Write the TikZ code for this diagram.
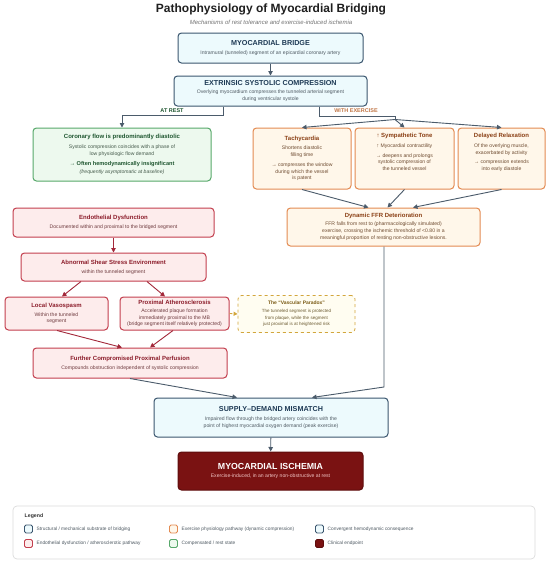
\documentclass[tikz,border=0pt]{standalone}
\usepackage{fontspec}
\setmainfont{Liberation Sans}
\usetikzlibrary{arrows.meta,calc}
\definecolor{navy}{HTML}{3B566F}
\definecolor{navytxt}{HTML}{1E3A55}
\definecolor{cyanf}{HTML}{EDFAFD}
\definecolor{graytxt}{HTML}{4F5A63}
\definecolor{orgb}{HTML}{E38B52}
\definecolor{orgf}{HTML}{FFF7EA}
\definecolor{orgt}{HTML}{8A3F14}
\definecolor{orgs}{HTML}{6E4B30}
\definecolor{redb}{HTML}{C33F4E}
\definecolor{redf}{HTML}{FDECEC}
\definecolor{redt}{HTML}{8C1D2B}
\definecolor{reds}{HTML}{6E3A3E}
\definecolor{grnb}{HTML}{57A86A}
\definecolor{grnf}{HTML}{EDF9EE}
\definecolor{grnt}{HTML}{1F5630}
\definecolor{grns}{HTML}{44594A}
\definecolor{parb}{HTML}{D2A63C}
\definecolor{parf}{HTML}{FFFDF1}
\definecolor{part}{HTML}{7A5A14}
\definecolor{pars}{HTML}{6B5A30}
\definecolor{ischf}{HTML}{7A1212}
\definecolor{ischd}{HTML}{5E0D0D}
\definecolor{ischs}{HTML}{F2C6C6}
\definecolor{arrc}{HTML}{4B5B6B}
\definecolor{arrr}{HTML}{A3283A}
\definecolor{legb}{HTML}{DCDCDC}
\newcommand{\fsz}[2]{\fontsize{#1}{#2}\selectfont}
\newcommand{\bigttl}{\fsz{7.2}{8}\bfseries}
\newcommand{\secttl}{\fsz{6}{6.8}\bfseries}
\begin{document}
\begin{tikzpicture}[x=1pt,y=-1pt,
  box/.style={rounded corners=3.5pt, line width=1pt, align=center, inner sep=1pt, font=\fsz{5.1}{6.8}},
  sbox/.style={box, draw=navy, fill=cyanf, text=graytxt},
  ebox/.style={box, draw=orgb, fill=orgf, text=orgs},
  rbox/.style={box, draw=redb, fill=redf, text=reds},
  gbox/.style={box, draw=grnb, fill=grnf, text=grns},
  pbox/.style={box, draw=parb, fill=parf, text=pars, dashed, line width=0.8pt, font=\fsz{4.5}{6.6}},
  ibox/.style={box, draw=ischd, fill=ischf, text=white},
  arr/.style={draw=arrc, line width=0.9pt, -{Triangle[length=4.5pt,width=4.5pt]}},
  rarr/.style={draw=arrr, line width=0.9pt, -{Triangle[length=4.5pt,width=4.5pt]}},
  parr/.style={draw=parb, line width=0.8pt, dashed, -{Triangle[length=4pt,width=4pt]}},
  lbl/.style={font=\fsz{5.5}{6}\bfseries, inner sep=0pt},
  sw/.style={rounded corners=1.5pt, line width=0.9pt, minimum width=8pt, minimum height=8pt, inner sep=0pt},
  legt/.style={anchor=west, inner sep=0pt, font=\fsz{4.8}{5.5}, text=graytxt}
]
\fill[white] (0,0) rectangle (550,563);
\useasboundingbox (0,0) rectangle (550,563);

\node[inner sep=0pt, font=\fsz{12}{14}\bfseries, text=black!88] (title) at (271,9.5) {Pathophysiology of Myocardial Bridging};
\node[inner sep=0pt, font=\fsz{6}{7}\itshape, text=black!55] (subtitle) at (271,22) {Mechanisms of rest tolerance and exercise-induced ischemia};

% structural
\node[sbox, minimum width=185pt, minimum height=30pt] (bridge) at (270.5,48)
 {{\bigttl\color{navytxt}MYOCARDIAL BRIDGE}\\[2pt]Intramural (tunneled) segment of an epicardial coronary artery};
\node[sbox, minimum width=193pt, minimum height=30pt] (comp) at (270.5,91)
 {{\bigttl\color{navytxt}EXTRINSIC SYSTOLIC COMPRESSION}\\[1.5pt]Overlying myocardium compresses the tunneled arterial segment\\during ventricular systole};

% rest
\node[gbox, minimum width=178pt, minimum height=53pt] (green) at (122,154.5)
 {{\secttl\color{grnt}Coronary flow is predominantly diastolic}\\[3pt]
  Systolic compression coincides with a phase of\\
  low physiologic flow demand\\[3.5pt]
  {\fsz{5.6}{6.8}\bfseries\color{grnt}→ Often hemodynamically insignificant}\\[1pt]
  {\itshape (frequently asymptomatic at baseline)}};

% exercise
\node[ebox, minimum width=98pt, minimum height=61pt] (tachy) at (302,158.5)
 {{\secttl\color{orgt}Tachycardia}\\[2.5pt]Shortens diastolic\\filling time\\[3pt]→ compresses the window\\during which the vessel\\is patent};
\node[ebox, minimum width=99pt, minimum height=61pt] (symp) at (404.5,158.5)
 {{\secttl\color{orgt}↑ Sympathetic Tone}\\[2.5pt]↑ Myocardial contractility\\[3pt]→ deepens and prolongs\\systolic compression of\\the tunneled vessel\\[6pt]};
\node[ebox, minimum width=87pt, minimum height=61pt] (delay) at (501.5,158.5)
 {{\secttl\color{orgt}Delayed Relaxation}\\[2.5pt]Of the overlying muscle,\\exacerbated by activity\\[3pt]→ compression extends\\into early diastole\\[6pt]};
\node[ebox, minimum width=193pt, minimum height=38pt] (ffr) at (383.5,227)
 {{\secttl\color{orgt}Dynamic FFR Deterioration}\\[1.5pt]FFR falls from rest to (pharmacologically simulated)\\exercise, crossing the ischemic threshold of <0.80 in a\\meaningful proportion of resting non-obstructive lesions.};

% endothelial
\node[rbox, minimum width=201pt, minimum height=29pt] (endo) at (113.5,222.5)
 {{\secttl\color{redt}Endothelial Dysfunction}\\[2pt]Documented within and proximal to the bridged segment};
\node[rbox, minimum width=185pt, minimum height=28pt] (shear) at (113.5,267)
 {{\secttl\color{redt}Abnormal Shear Stress Environment}\\[2pt]within the tunneled segment};
\node[rbox, minimum width=103pt, minimum height=33pt] (vaso) at (56.5,313.5)
 {{\secttl\color{redt}Local Vasospasm}\\[2pt]Within the tunneled\\segment};
\node[rbox, minimum width=109pt, minimum height=33pt] (athero) at (174.5,313.5)
 {{\secttl\color{redt}Proximal Atherosclerosis}\\[1pt]Accelerated plaque formation\\immediately proximal to the MB\\(bridge segment itself relatively protected)};
\node[pbox, minimum width=117pt, minimum height=37pt] (paradox) at (296.5,314)
 {{\fsz{5}{6.6}\bfseries\color{part}The “Vascular Paradox”}\\[1.5pt]The tunneled segment is protected\\from plaque, while the segment\\just proximal is at heightened risk};
\node[rbox, minimum width=194pt, minimum height=30pt] (further) at (130,363)
 {{\secttl\color{redt}Further Compromised Proximal Perfusion}\\[2.5pt]Compounds obstruction independent of systolic compression};

% convergent
\node[sbox, minimum width=234pt, minimum height=39pt] (supply) at (271,417.5)
 {{\bigttl\color{navytxt}SUPPLY–DEMAND MISMATCH}\\[3pt]Impaired flow through the bridged artery coincides with the\\point of highest myocardial oxygen demand (peak exercise)};
\node[ibox, minimum width=185pt, minimum height=38pt] (isch) at (270.5,471)
 {{\fsz{8.8}{10}\bfseries MYOCARDIAL ISCHEMIA}\\[2pt]{\color{ischs}Exercise-induced, in an artery non-obstructive at rest}};

% connectors
\draw[arr] (bridge) -- (comp);
\coordinate (rj) at (223,115);
\draw[arr] (comp.south -| rj) -- (rj) -| (green.north);
\node[lbl, text=grnt] (atrest) at (172,110.5) {AT REST};
\coordinate (ek) at (319,116);
\coordinate (ej) at (395,119.5);
\draw[draw=arrc, line width=0.9pt] (comp.south -| ek) -- (ek) -- (ek -| ej) -- (ej);
\node[lbl, text=orgb!85!black] (withex) at (356,110.5) {WITH EXERCISE};
\draw[arr] (ej) -- (tachy.north);
\draw[arr] (ej) -- (symp.north);
\draw[arr] (ej) -- (delay.north);
\draw[arr] (tachy.south) -- ([xshift=-15pt]ffr.north);
\draw[arr] (symp.south) -- ([xshift=4pt]ffr.north);
\draw[arr] (delay.south) -- ([xshift=29.5pt]ffr.north);
\coordinate (fj) at (384,387);
\draw[arr] (ffr.south -| fj) -- (fj) -- ([xshift=41pt]supply.north);

\draw[rarr] (endo) -- (shear);
\draw[rarr] ([xshift=-32.5pt]shear.south) -- ([xshift=5.5pt]vaso.north);
\draw[rarr] ([xshift=33.5pt]shear.south) -- ([xshift=-9.5pt]athero.north);
\draw[parr] (athero.east) -- (paradox.west);
\draw[rarr] ([xshift=0.5pt]vaso.south) -- ([xshift=-8pt]further.north);
\draw[rarr] ([xshift=-1.5pt]athero.south) -- ([xshift=20pt]further.north);
\draw[arr] (further.south) -- ([xshift=-34pt]supply.north);
\draw[arr] (supply) -- (isch);

% legend
\node[draw=legb, fill=white, line width=0.7pt, rounded corners=4pt, minimum width=522pt, minimum height=53pt] (legend) at (274,532.5) {};
\node[anchor=west, inner sep=0pt, font=\fsz{5.2}{6}\bfseries, text=black!80] (legtitle) at (24.5,516.5) {Legend};
\node[sw, draw=navy, fill=cyanf] (s1) at (28.5,529) {};
\node[legt] (l1) at (36.5,529) {Structural / mechanical substrate of bridging};
\node[sw, draw=orgb, fill=orgf] (s2) at (173.5,529) {};
\node[legt] (l2) at (181.5,529) {Exercise physiology pathway (dynamic compression)};
\node[sw, draw=navy, fill=cyanf] (s3) at (319.5,529) {};
\node[legt] (l3) at (327.5,529) {Convergent hemodynamic consequence};
\node[sw, draw=redb, fill=redf] (s4) at (28.5,543.5) {};
\node[legt] (l4) at (36.5,543.5) {Endothelial dysfunction / atherosclerotic pathway};
\node[sw, draw=grnb, fill=grnf] (s5) at (173.5,543.5) {};
\node[legt] (l5) at (181.5,543.5) {Compensated / rest state};
\node[sw, draw=ischd, fill=ischf] (s6) at (319.5,543.5) {};
\node[legt] (l6) at (327.5,543.5) {Clinical endpoint};
\end{tikzpicture}
\end{document}
